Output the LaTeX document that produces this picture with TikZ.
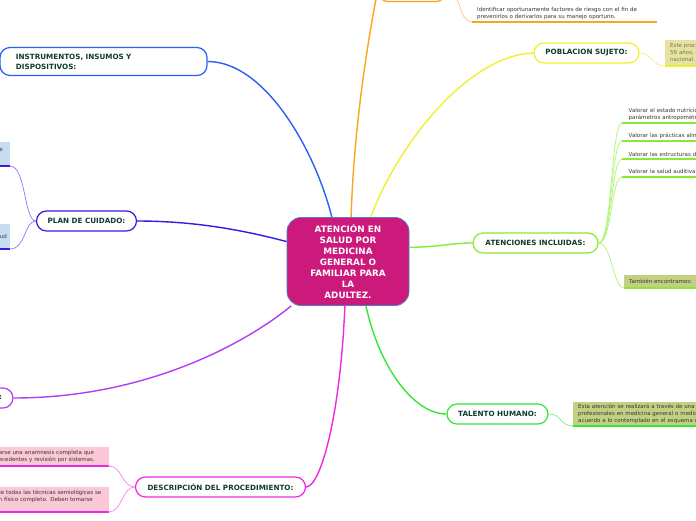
\documentclass[tikz,border=0pt]{standalone}
\usepackage{fontspec}
\setmainfont{DejaVu Sans}
\definecolor{cfill}{RGB}{204,26,124}
\definecolor{cborder}{RGB}{80,125,200}
\definecolor{ntext}{RGB}{15,60,45}
\definecolor{ltext}{RGB}{55,55,50}
\definecolor{corange}{RGB}{250,165,30}
\definecolor{corangel}{RGB}{250,195,120}
\definecolor{cyellow}{RGB}{240,240,50}
\definecolor{cyellowl}{RGB}{240,240,130}
\definecolor{cgreenA}{RGB}{135,235,50}
\definecolor{cgreenAl}{RGB}{175,245,115}
\definecolor{cgreenB}{RGB}{55,230,55}
\definecolor{cgreenBl}{RGB}{125,240,125}
\definecolor{cmag}{RGB}{240,40,225}
\definecolor{cmagl}{RGB}{245,130,240}
\definecolor{cpurple}{RGB}{180,60,245}
\definecolor{cplan}{RGB}{55,25,225}
\definecolor{cplanl}{RGB}{140,120,245}
\definecolor{cblue}{RGB}{40,95,245}
\definecolor{ckhaki}{RGB}{230,226,160}
\definecolor{colive}{RGB}{195,208,132}
\definecolor{cpink}{RGB}{250,200,215}
\definecolor{clblue}{RGB}{198,221,241}
\definecolor{khtext}{RGB}{120,118,90}
\begin{document}
\begin{tikzpicture}[x=1pt,y=-1pt,
  centre/.style={draw=cborder, fill=cfill, rounded corners=14pt, line width=0.8pt,
    minimum width=122pt, minimum height=88pt, inner sep=0pt, align=center,
    text=white, font=\fontsize{8.8}{11}\selectfont\bfseries},
  branch/.style={draw, fill=white, rounded corners=10pt, line width=1.2pt,
    minimum height=20pt, inner sep=0pt, text=ntext,
    font=\fontsize{7.2}{10}\selectfont\bfseries},
  leaf/.style={font=\fontsize{5.5}{7}\selectfont, text=ltext, align=left,
    inner ysep=2.5pt, inner xsep=5pt},
  leafbox/.style={leaf, inner ysep=2pt},
  conn/.style={line width=1.4pt},
  subconn/.style={line width=0.7pt},
  uline/.style={line width=1.6pt}
]
\useasboundingbox (0,0) rectangle (696,520);
\fill[white] (0,0) rectangle (696,520);
\clip (0,0) rectangle (696,520);

% central node
\node[centre] (c) at (348,261.5) {ATENCIÓN EN\\SALUD POR\\MEDICINA\\GENERAL O\\FAMILIAR PARA\\LA\\ADULTEZ.};

% main branches
\node[branch, draw=cblue, text width=175pt, inner xsep=16pt, align=left, minimum height=28pt] (ins) at (103.5,61.5) {INSTRUMENTOS, INSUMOS Y\\DISPOSITIVOS:};
\node[branch, draw=cplan, minimum width=100pt] (plan) at (86.5,221) {PLAN DE CUIDADO:};
\node[branch, draw=cpurple, minimum width=87pt, text width=65pt, align=right] (bl) at (-30.5,398) {:};
\node[branch, draw=cyellow, minimum width=105pt] (pob) at (586.5,53) {POBLACION SUJETO:};
\node[branch, draw=cgreenA, minimum width=125pt] (aten) at (535.5,243) {ATENCIONES INCLUIDAS:};
\node[branch, draw=cgreenB, minimum width=101pt] (tal) at (497.5,414) {TALENTO HUMANO:};
\node[branch, draw=cmag, minimum width=170pt] (desc) at (220.5,487) {DESCRIPCIÓN DEL PROCEDIMIENTO:};
\node[branch, draw=corange, minimum width=68pt] (obj) at (412,-8.5) {};

% main connectors
\draw[conn, cblue] (ins.east) .. controls (265,61.5) and (315,150) .. (c.110);
\draw[conn, corange] (c.86) .. controls (354,120) and (370,30) .. (obj.west);
\draw[conn, cyellow] (c.63) .. controls (400,140) and (470,55) .. (pob.west);
\draw[conn, cgreenA] (c.13) .. controls (440,247) and (450,243) .. (aten.west);
\draw[conn, cgreenB] (c.292) .. controls (380,370) and (415,414) .. (tal.west);
\draw[conn, cmag] (c.266) .. controls (340,420) and (320,487) .. (desc.east);
\draw[conn, cpurple] (bl.east) .. controls (150,398) and (250,340) .. (c.218);
\draw[conn, cplan] (plan.east) .. controls (200,221) and (250,232) .. (c.162);

% orange leaf
\node[leaf, anchor=south west, text width=175pt] (idf) at (472,22) {Identificar oportunamente factores de riesgo con el fin de\\prevenirlos o derivarlos para su manejo oportuno.};
\draw[uline, corange] (idf.south west) -- (idf.south east);
\draw[subconn, corangel] (obj.east) .. controls (462,-8.5) and (458,22) .. (idf.south west);

% yellow leaf
\node[leafbox, fill=ckhaki, text=khtext, anchor=south west, minimum height=26pt, text width=200pt] (pl) at (665,66) {Este procedimiento se aplica a la población de 29 a\\59 años, en todo el territorio\\nacional.};
\draw[uline, cyellow] (pl.south west) -- (pl.south east);
\draw[subconn, cyellowl] (pob.east) .. controls (652,53) and (652,66) .. (pl.south west);

% atenciones leaves
\node[leaf, anchor=south west, text width=200pt, inner xsep=6.5pt] (a1) at (622,123) {Valorar el estado nutricional a través de\\parámetros antropométricos.};
\node[leaf, anchor=south west, text width=200pt, inner xsep=6.5pt] (a2) at (622,141) {Valorar las prácticas alimentarias.};
\node[leaf, anchor=south west, text width=200pt, inner xsep=6.5pt] (a3) at (622,159) {Valorar las estructuras dentomaxilares.};
\node[leaf, anchor=south west, text width=200pt, inner xsep=6.5pt] (a4) at (622,177) {Valorar la salud auditiva y comunicativa.};
\node[leafbox, fill=colive, anchor=south west, minimum height=12.5pt, text width=90pt] (tam) at (624,288) {También encontramos:};
\foreach \n in {a1,a2,a3,a4,tam}{
  \draw[uline, cgreenA] (\n.south west) -- (\n.south east);
  \draw[subconn, cgreenAl] (aten.east) .. controls (612,243) and ([xshift=-11pt]\n.south west) .. (\n.south west);
}

% talento leaf
\node[leafbox, fill=colive, anchor=south west, minimum height=24pt, text width=200pt] (tl) at (573,426) {Esta atención se realizará a través de una consulta por\\profesionales en medicina general o medicina familiar de\\acuerdo a lo contemplado en el esquema de atención.};
\draw[uline, cgreenB] (tl.south west) -- (tl.south east);
\draw[subconn, cgreenBl] (tal.east) .. controls (562,414) and (560,426) .. (tl.south west);

% descripcion leaves
\node[leafbox, fill=cpink, anchor=south east, minimum height=19pt, text width=108pt, inner xsep=2pt] (p1) at (109,466) {arse una anamnesis completa que\\ecedentes y revisión por sistemas.};
\node[leafbox, fill=cpink, anchor=south east, minimum height=25pt, text width=108pt, inner xsep=2pt] (p2) at (109,512) {te todas las técnicas semiológicas se\\n físico completo. Deben tomarse\\~};
\draw[uline, cmag] (p1.south west) -- (p1.south east);
\draw[uline, cmag] (p2.south west) -- (p2.south east);
\draw[subconn, cmagl] (desc.west) .. controls (122,487) and (122,466) .. (p1.south east);
\draw[subconn, cmagl] (desc.west) .. controls (122,487) and (122,512) .. (p2.south east);

% plan leaves
\node[leafbox, fill=clblue, anchor=south east, minimum height=24pt, text width=30pt, inner xsep=7pt, align=right] (b1) at (10,166) {e\\~};
\node[leafbox, fill=clblue, anchor=south east, minimum height=25pt, text width=30pt, inner xsep=3pt, align=right] (b2) at (10,249) {ud};
\draw[uline, cplan] (b1.south west) -- (b1.south east);
\draw[uline, cplan] (b2.south west) -- (b2.south east);
\draw[subconn, cplanl] (plan.west) .. controls (24,221) and (26,166) .. (b1.south east);
\draw[subconn, cplanl] (plan.west) .. controls (24,221) and (26,249) .. (b2.south east);
\end{tikzpicture}
\end{document}
